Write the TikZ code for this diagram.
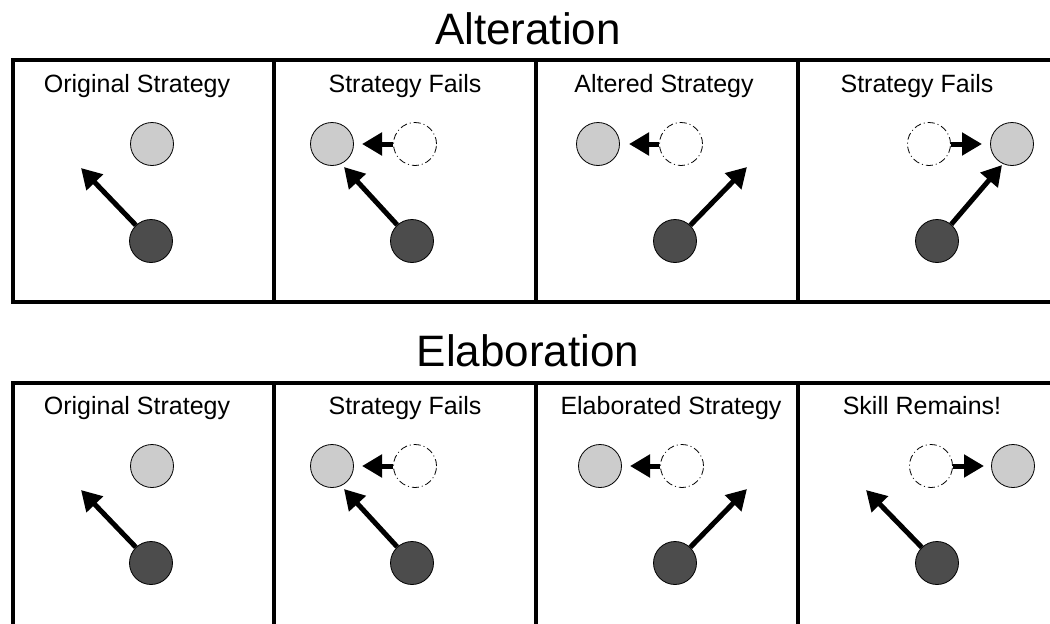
\documentclass[tikz,border=0pt]{standalone}
\usepackage{fontspec}
\setmainfont{Liberation Sans}
\usetikzlibrary{arrows.meta}
\tikzset{
  frame/.style={line width=4pt},
  ball/.style={circle,draw,line width=0.8pt,fill=black!70,minimum size=43pt,inner sep=0pt},
  goal/.style={circle,draw,line width=0.8pt,fill=black!20,minimum size=43pt,inner sep=0pt},
  ghost/.style={circle,draw,line width=0.8pt,dash pattern=on 7pt off 3pt on 1pt off 3pt,minimum size=43pt,inner sep=0pt},
  kick/.style={line width=5pt,-{Triangle[length=20pt,width=22pt]}},
  paneltext/.style={font=\fontsize{25}{30}\selectfont,anchor=base,inner sep=0pt},
  heading/.style={font=\fontsize{44}{53}\selectfont,anchor=base,inner sep=0pt}
}
\begin{document}
\begin{tikzpicture}[x=1pt,y=-1pt]
      \useasboundingbox (0,0) rectangle (1050,624);
      \clip (0,0) rectangle (1050,624);
      \draw[frame] (13,60) rectangle (1062,302);
      \draw[frame] (274,60) -- (274,302) (536,60) -- (536,302) (798,60) -- (798,302);
      \draw[frame] (13,383) rectangle (1062,640);
      \draw[frame] (274,383) -- (274,640) (536,383) -- (536,640) (798,383) -- (798,640);
      \draw
        (528,44) node[heading] (alt){Alteration}
        (137,92) node[paneltext] (a1text){Original Strategy}
        (405,92) node[paneltext] (a2text){Strategy Fails}
        (664,92) node[paneltext] (a3text){Altered Strategy}
        (917,92) node[paneltext] (a4text){Strategy Fails}
        (152,144) node[goal] (a1goal){}
        (151,241) node[ball] (a1ball){}
        (81,168) coordinate (a1aim)
        (332,144) node[goal] (a2goal){}
        (415,144) node[ghost] (a2old){}
        (362,144) coordinate (a2push)
        (412,241) node[ball] (a2ball){}
        (344,167) coordinate (a2aim)
        (598,144) node[goal] (a3goal){}
        (681,144) node[ghost] (a3old){}
        (629,144) coordinate (a3push)
        (675,241) node[ball] (a3ball){}
        (747,167) coordinate (a3aim)
        (929,144) node[ghost] (a4old){}
        (1012,144) node[goal] (a4goal){}
        (982,144) coordinate (a4push)
        (937,241) node[ball] (a4ball){}
        (1002,165) coordinate (a4aim);
      \draw
        (528,366) node[heading] (elab){Elaboration}
        (137,414) node[paneltext] (e1text){Original Strategy}
        (405,414) node[paneltext] (e2text){Strategy Fails}
        (671,414) node[paneltext] (e3text){Elaborated Strategy}
        (922,414) node[paneltext] (e4text){Skill Remains!}
        (152,466) node[goal] (e1goal){}
        (151,563) node[ball] (e1ball){}
        (81,490) coordinate (e1aim)
        (332,466) node[goal] (e2goal){}
        (415,466) node[ghost] (e2old){}
        (362,466) coordinate (e2push)
        (412,563) node[ball] (e2ball){}
        (344,489) coordinate (e2aim)
        (600,466) node[goal] (e3goal){}
        (682,466) node[ghost] (e3old){}
        (630,466) coordinate (e3push)
        (675,563) node[ball] (e3ball){}
        (747,489) coordinate (e3aim)
        (931,466) node[ghost] (e4old){}
        (1013,466) node[goal] (e4goal){}
        (984,466) coordinate (e4push)
        (937,563) node[ball] (e4ball){}
        (866,490) coordinate (e4aim);
      \begin{scope}[kick]
        \draw (a1ball) to (a1aim);
        \draw (a2old) to (a2push);
        \draw (a2ball) to (a2aim);
        \draw (a3old) to (a3push);
        \draw (a3ball) to (a3aim);
        \draw (a4old) to (a4push);
        \draw (a4ball) to (a4aim);
        \draw (e1ball) to (e1aim);
        \draw (e2old) to (e2push);
        \draw (e2ball) to (e2aim);
        \draw (e3old) to (e3push);
        \draw (e3ball) to (e3aim);
        \draw (e4old) to (e4push);
        \draw (e4ball) to (e4aim);
      \end{scope}
    \end{tikzpicture}
\end{document}
